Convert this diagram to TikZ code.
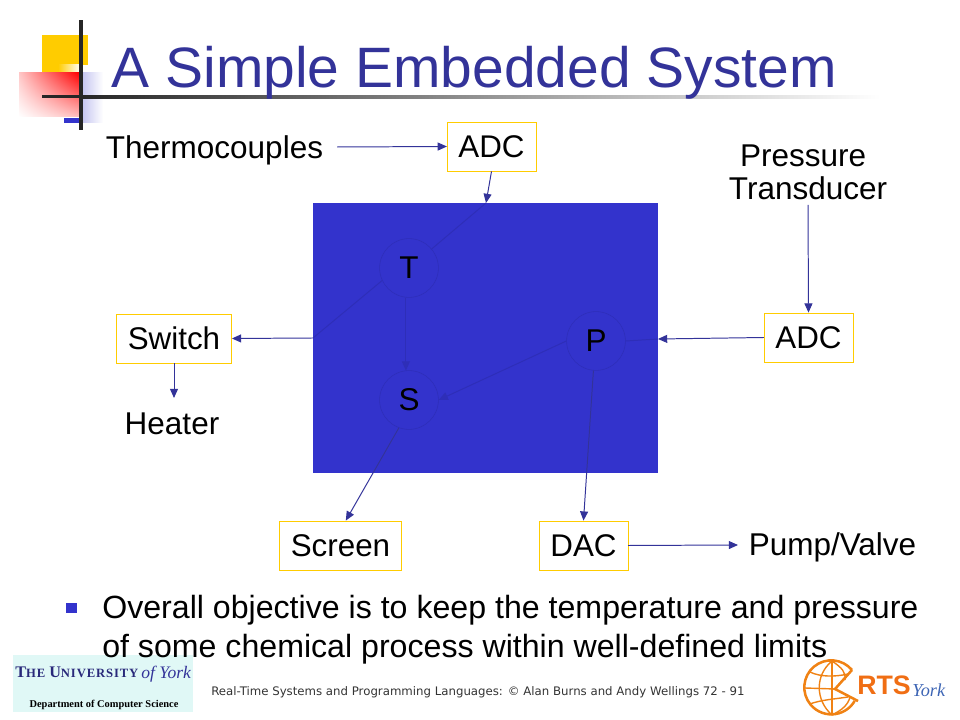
\documentclass[tikz,border=0pt]{standalone}
\usepackage{fontspec}
\setmainfont{Liberation Sans}
\newfontfamily\footfont{DejaVu Sans}
\newfontfamily\crestfont{Liberation Serif}
\newfontfamily\crestwide[LetterSpace=7]{Liberation Serif}
\usetikzlibrary{arrows.meta,positioning,shadings}
\definecolor{ink}{RGB}{51,51,153}
\definecolor{plant}{RGB}{51,51,204}
\definecolor{faint}{RGB}{46,46,184}
\definecolor{gold}{RGB}{255,204,0}
\definecolor{mint}{RGB}{224,248,246}
\definecolor{rtsorange}{RGB}{240,130,20}
\definecolor{rtsred}{RGB}{240,110,20}
\definecolor{rtsblue}{RGB}{60,100,180}
\newcommand{\fs}[1]{\fontsize{#1}{#1}\selectfont}
\tikzset{
  unit/.style={draw=gold,fill=white,minimum height=35pt,inner sep=0pt,font=\fs{22.3},text=black},
  lbl/.style={font=\fs{22.4},text=black,inner sep=0pt,align=center},
  proc/.style={circle,draw=faint,minimum size=41.8pt,inner sep=0pt,font=\fs{22.4},text=black},
  ar/.style={ink,line width=.7pt,-{Triangle[length=2.3mm,width=2mm]}},
  arin/.style={faint,line width=.7pt,-{Triangle[length=2.3mm,width=2mm]}},
  wire/.style={faint,line width=.7pt},
  globe/.style={rtsorange,line width=1pt},
}

\begin{document}
\begin{tikzpicture}[x=.025cm,y=-.025cm]
  \useasboundingbox (0,0) rectangle (960,720);
  % corner ornament
  \fill[gold] (42,35) rectangle (88,65);
  \fill[gold] (42,65) rectangle (58,73);
  \shade[left color=gold,right color=white] (58,65) rectangle (80,73);
  \shade[lower left=white,upper left=red!22,upper right=red,lower right=red!25] (19,73) rectangle (80,117);
  \shade[left color=plant!30,right color=white] (81,73) rectangle (103,123);
  \fill[plant] (64,118) rectangle (80,123);
  \shade[left color=black!85,right color=white] (81,95.5) rectangle (880,98.5);
  \fill[black!85] (42,95.5) rectangle (81,98.5);
  \fill[black!85] (79,20) rectangle (83,130);
  \node[anchor=base west,font=\fs{40.5},text=ink,inner sep=0pt] (title) at (111.5,88) {A Simple Embedded System};

  % plant
  \fill[plant] (313,203) rectangle (658,473);
  \node[proc] (tmpT) at (409,268) {T};
  \node[proc] (tmpS) at (409,400) {S};
  \node[proc] (tmpP) at (596,341) {P};
  \coordinate (tin) at (486,203);
  \coordinate (tout) at (313,338);
  \coordinate (pin) at (658,339);
  \coordinate (thermoend) at (337,147);
  \coordinate (pressend) at (808,205);
  \coordinate (heatin) at (174,398);
  \coordinate (pumpin) at (738,545);

  \node[lbl] (thermo) at (214.5,150) {Thermocouples};
  \node[unit,minimum width=63pt] (adcT) at (491.5,146.5) {ADC};
  \node[lbl] (press) at (808,172) {\hspace*{-7pt}Pressure\\[1pt]Transducer};
  \node[unit,minimum width=63pt] (adcP) at (808.5,337.5) {ADC};
  \node[unit,minimum width=82pt] (switch) at (174,338.5) {Switch};
  \node[lbl] (heater) at (172,424) {Heater};
  \node[unit,minimum width=87pt] (screen) at (340.5,545.5) {Screen};
  \node[unit,minimum width=63pt] (dac) at (583.5,545.5) {DAC};
  \node[lbl] (pump) at (832.5,547) {Pump/Valve};

  \draw[ar] (thermoend) -- (adcT.west);
  \draw[ar] (adcT.south) -- (tin);
  \draw[wire] (tin) -- (tmpT.40);
  \draw[wire] (tmpT.205) -- (tout);
  \draw[ar] (tout) -- (switch.east);
  \draw[arin] (tmpT.264) -- (tmpS.96);
  \draw[arin] (tmpP.180) -- (tmpS.0);
  \draw[ar] (adcP.west) -- (pin);
  \draw[wire] (pin) -- (tmpP.east);
  \draw[ar] (pressend) -- (adcP.north);
  \draw[ar] (switch.south) -- (heatin);
  \draw[ar] (tmpS.250) -- (screen.78);
  \draw[ar] (tmpP.265) -- (dac.north);
  \draw[ar] (dac.east) -- (pumpin);

  % york crest
  \fill[mint] (13,655) rectangle (193,712);
  \node[anchor=base west,inner sep=0pt,font=\crestwide\bfseries\fs{11.5},text=ink!80!black] (uni) at (15,677)
    {T\fs{9}HE \fs{11.5}U\fs{9}NIVERSITY};
  \node[anchor=base west,inner sep=0pt,font=\crestfont\itshape\fs{12.5},text=ink] (york) at (141,678) {of York};
  \node[anchor=base,inner sep=0pt,font=\crestfont\bfseries\fs{7.4},text=black] (dept) at (104,707)
    {Department of Computer Science};

  % bullet text
  \fill[plant] (66,603) rectangle (77,613);
  \node[lbl,anchor=north west,align=left,font=\fs{22.85}] (goal) at (102,595)
    {Overall objective is to keep the temperature and pressure\\[4.5pt]
     of some chemical process within well-defined limits};

  % footer
  \node[anchor=base west,inner sep=0pt,font=\footfont\fs{8.36},text=black!80] (foot) at (211,695)
    {Real-Time Systems and Programming Languages: \textcopyright{} Alan Burns and Andy Wellings 72 - 91};

  % rts logo
  \draw[globe,line width=1.8pt] (852,670) arc[start angle=40,end angle=330,radius=.675cm];
  \draw[globe,line width=1.8pt] (852,670) -- (835,689) -- (858,701);
  \draw[globe] (832,661) .. controls (815,675) and (815,700) .. (832,715);
  \draw[globe] (832,661) .. controls (842,668) and (846,672) .. (845,680);
  \draw[globe] (832,715) .. controls (842,710) and (848,705) .. (850,697);
  \draw[globe] (832,661) -- (832,715);
  \draw[globe] (810,672) .. controls (820,677) and (835,677) .. (848,674);
  \draw[globe] (805,688) -- (835,689);
  \draw[globe] (810,704) .. controls (820,700) and (835,699) .. (848,697);
  \node[anchor=base west,inner sep=0pt,font=\bfseries\fs{19},text=rtsred] (rts) at (857,694) {RTS};
  \node[anchor=base west,inner sep=0pt,font=\crestfont\itshape\fs{13},text=rtsblue] (rtsy) at (912,696) {York};
\end{tikzpicture}
\end{document}
